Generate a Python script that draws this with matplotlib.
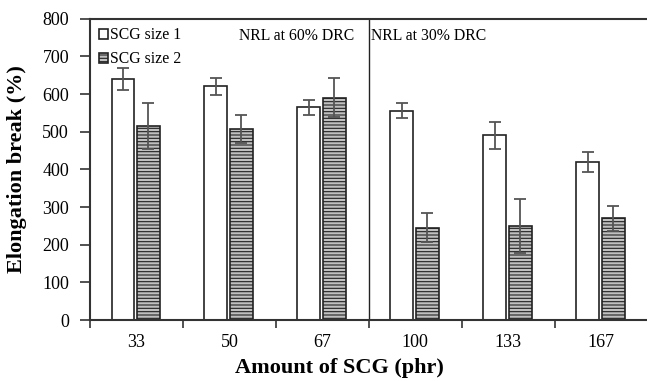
import matplotlib

matplotlib.use("Agg")
import matplotlib.pyplot as plt  # noqa: E402
import numpy as np  # noqa: E402
from matplotlib.patches import Patch  # noqa: E402

plt.rcParams["font.family"] = ["Liberation Serif", "DejaVu Serif"]
plt.rcParams["hatch.linewidth"] = 0.8

categories = ["33", "50", "67", "100", "133", "167"]
size1 = [640, 620, 565, 555, 490, 420]
size1_err = [30, 22, 20, 20, 37, 26]
size2 = [515, 508, 590, 245, 250, 270]
size2_err = [62, 37, 52, 38, 72, 33]

x = np.arange(len(categories))
w = 0.245

fig = plt.figure(figsize=(6.47, 3.81), dpi=100)
ax = fig.add_axes([0.139, 0.160, 0.862, 0.791])

ax.bar(x - 0.145, size1, w, color="white", edgecolor="#222222", linewidth=1.2, zorder=2)
ax.bar(x + 0.13, size2, w, color="#c0c0c0", edgecolor="#222222", linewidth=1.2,
       hatch="-----", zorder=2)
ax.errorbar(x - 0.145, size1, yerr=size1_err, fmt="none", ecolor="#555555",
            elinewidth=1.3, capsize=4, capthick=1.3, zorder=3)
ax.errorbar(x + 0.13, size2, yerr=size2_err, fmt="none", ecolor="#555555",
            elinewidth=1.3, capsize=4, capthick=1.3, zorder=3)

ax.axvline(2.5, color="#222222", lw=1.0, zorder=1)
ax.text(1.1, 755, "NRL at 60% DRC", fontsize=11.3, va="center", ha="left")
ax.text(2.52, 755, "NRL at 30% DRC", fontsize=11.3, va="center", ha="left")

ax.set_xlim(-0.5, 5.5)
ax.set_ylim(0, 800)
ax.set_yticks(range(0, 801, 100))
ax.set_xticks(x)
ax.set_xticklabels(categories)
ax.set_xticks(np.arange(-0.5, 6.0, 1.0), minor=True)
ax.tick_params(axis="x", which="major", length=0, labelsize=13, pad=10)
ax.tick_params(axis="x", which="minor", length=6, width=1.2, direction="out", color="#333333")
ax.tick_params(axis="y", length=7, width=1.2, direction="out", color="#333333",
               labelsize=13, pad=8)

for s in ["left", "bottom", "top"]:
    ax.spines[s].set_color("#333333")
    ax.spines[s].set_linewidth(1.5)
ax.spines["right"].set_visible(False)

fig.text(0.027, 0.555, "Elongation break (%)", rotation=90, fontsize=16,
         fontweight="bold", ha="center", va="center")
fig.text(0.524, 0.035, "Amount of SCG (phr)", fontsize=16,
         fontweight="bold", ha="center", va="center")

handles = [
    Patch(facecolor="white", edgecolor="#222222", linewidth=1.2),
    Patch(facecolor="#c0c0c0", edgecolor="#222222", linewidth=1.2, hatch="-----"),
]
ax.legend(handles, ["SCG size 1", "SCG size 2"], loc="upper left",
          bbox_to_anchor=(0.0, 1.0), frameon=False, fontsize=11.3,
          handlelength=0.6, handleheight=0.6, handletextpad=0.1,
          labelspacing=0.5, borderaxespad=0.15)

fig.savefig("out.png", dpi=100)
